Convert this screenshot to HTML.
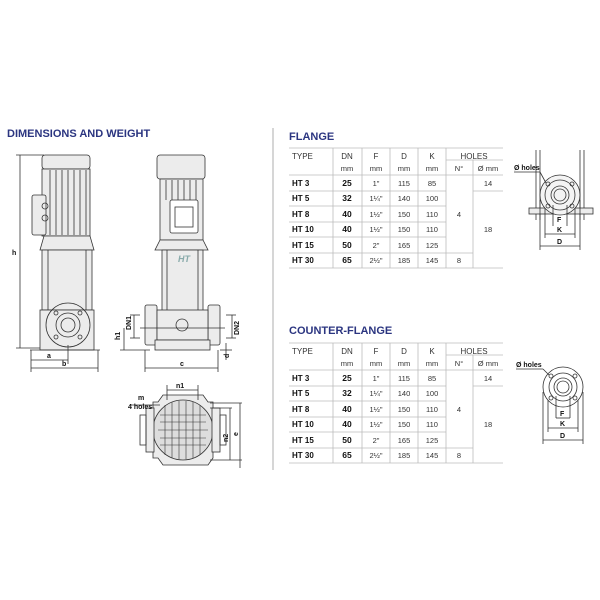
<!DOCTYPE html>
<html><head><style>
body{margin:0;background:#fff;}
svg{display:block;font-family:"Liberation Sans",Arial,sans-serif;}
.t{fill:#2b3580;font-weight:bold;font-size:11px;}
.h{font-size:8px;fill:#333;}
.c{font-size:7.5px;fill:#333;text-anchor:middle;}
.hc{font-size:8px;fill:#333;text-anchor:middle;}
.b{font-size:8px;fill:#111;font-weight:bold;}
.bc{font-size:8.5px;fill:#111;font-weight:bold;text-anchor:middle;}
.l{stroke:#333;fill:none;stroke-width:0.8;}
.f{fill:#ececec;}
.g{stroke:#bbb;stroke-width:0.8;}
.d{font-size:7px;fill:#111;font-weight:bold;}
</style></head><body>
<svg width="600" height="600" viewBox="0 0 600 600">
<text x="7" y="137" class="t">DIMENSIONS AND WEIGHT</text>
<line x1="273" y1="128" x2="273" y2="470" stroke="#999" stroke-width="0.8"/>

<!-- Left pump -->
<g class="l">
<rect x="42" y="155" width="48" height="14" rx="3" class="f"/>
<rect x="42" y="169" width="48" height="67" class="f"/>
<line x1="50" y1="170" x2="50" y2="235"/><line x1="56" y1="170" x2="56" y2="235"/><line x1="62" y1="170" x2="62" y2="235"/><line x1="68" y1="170" x2="68" y2="235"/><line x1="74" y1="170" x2="74" y2="235"/><line x1="80" y1="170" x2="80" y2="235"/><line x1="86" y1="170" x2="86" y2="235"/>
<rect x="32" y="195" width="14" height="40" rx="2" class="f"/>
<circle cx="45" cy="206" r="3"/><circle cx="45" cy="218" r="3"/>
<path d="M44 236 L90 236 L94 250 L40 250 Z" class="f"/>
<rect x="42" y="250" width="50" height="60" class="f"/>
<line x1="48" y1="250" x2="48" y2="310"/><line x1="86" y1="250" x2="86" y2="310"/>
<rect x="40" y="310" width="54" height="40" class="f"/>
<circle cx="68" cy="325" r="22"/><circle cx="68" cy="325" r="12"/><circle cx="68" cy="325" r="7"/>
<circle cx="56" cy="313" r="2"/><circle cx="80" cy="313" r="2"/><circle cx="56" cy="337" r="2"/><circle cx="80" cy="337" r="2"/>
<line x1="30" y1="350" x2="100" y2="350"/>
<line x1="20" y1="155" x2="20" y2="348"/><line x1="16" y1="155" x2="44" y2="155"/><line x1="16" y1="348" x2="40" y2="348"/>
<line x1="31" y1="350" x2="31" y2="372"/><line x1="98" y1="350" x2="98" y2="372"/><line x1="68" y1="345" x2="68" y2="364"/>
<line x1="31" y1="360" x2="68" y2="360"/><line x1="31" y1="368" x2="98" y2="368"/>
</g>
<text x="12" y="255" class="d">h</text>
<text x="47" y="358" class="d">a</text>
<text x="62" y="366" class="d">b</text>

<!-- Second pump -->
<g class="l">
<rect x="157" y="155" width="48" height="24" rx="3" class="f"/>
<rect x="160" y="179" width="43" height="61" class="f"/>
<line x1="166" y1="180" x2="166" y2="200"/><line x1="172" y1="180" x2="172" y2="200"/><line x1="178" y1="180" x2="178" y2="200"/><line x1="184" y1="180" x2="184" y2="200"/><line x1="190" y1="180" x2="190" y2="200"/><line x1="196" y1="180" x2="196" y2="200"/>
<rect x="170" y="200" width="28" height="33" rx="2" fill="#fff"/>
<rect x="175" y="207" width="18" height="20"/>
<path d="M160 240 L203 240 L208 250 L155 250 Z" class="f"/>
<rect x="162" y="250" width="41" height="65" class="f"/>
<line x1="167" y1="250" x2="167" y2="315"/><line x1="198" y1="250" x2="198" y2="315"/>
<rect x="145" y="305" width="12" height="40" rx="2" class="f"/><rect x="208" y="305" width="12" height="40" rx="2" class="f"/>
<rect x="157" y="310" width="51" height="30" class="f"/>
<circle cx="182" cy="325" r="6"/>
<rect x="155" y="340" width="55" height="10" class="f"/>
<line x1="140" y1="328" x2="225" y2="328"/>
<line x1="145" y1="350" x2="145" y2="372"/><line x1="218" y1="350" x2="218" y2="372"/>
<line x1="145" y1="368" x2="218" y2="368"/>
<line x1="134" y1="315" x2="134" y2="338"/><line x1="130" y1="315" x2="140" y2="315"/><line x1="130" y1="338" x2="140" y2="338"/>
<line x1="124" y1="328" x2="124" y2="350"/><line x1="120" y1="350" x2="150" y2="350"/>
<line x1="232" y1="315" x2="232" y2="338"/><line x1="226" y1="315" x2="236" y2="315"/><line x1="226" y1="338" x2="236" y2="338"/>
<line x1="226" y1="343" x2="226" y2="360"/><line x1="220" y1="350" x2="232" y2="350"/>
</g>
<text x="178" y="262" font-size="9" font-style="italic" font-weight="bold" fill="#8aa">HT</text>
<text x="180" y="366" class="d">c</text>
<text x="131" y="330" class="d" transform="rotate(-90 131 330)">DN1</text>
<text x="239" y="335" class="d" transform="rotate(-90 239 335)">DN2</text>
<text x="120" y="340" class="d" transform="rotate(-90 120 340)">h1</text>
<text x="229" y="358" class="d" transform="rotate(-90 229 358)">d</text>

<!-- bottom view -->
<g class="l">
<path d="M163 395 L203 395 L208 402 L213 402 L213 458 L208 465 L163 465 L158 458 L153 458 L153 402 L158 402 Z" class="f"/>
<circle cx="183" cy="430" r="30" fill="#ddd"/>
<rect x="146" y="408" width="8" height="44" class="f"/><rect x="212" y="408" width="8" height="44" class="f"/>
<rect x="140" y="415" width="6" height="30"/><rect x="220" y="415" width="6" height="30"/>
<line x1="167" y1="385" x2="167" y2="400"/><line x1="198" y1="385" x2="198" y2="400"/>
<line x1="167" y1="390" x2="198" y2="390"/>
<line x1="210" y1="408" x2="232" y2="408"/><line x1="210" y1="460" x2="242" y2="460"/><line x1="210" y1="403" x2="242" y2="403"/>
<line x1="230" y1="408" x2="230" y2="460"/><line x1="240" y1="403" x2="240" y2="468"/>
<line x1="130" y1="405" x2="160" y2="405"/>
</g>
<g stroke="#333" stroke-width="0.6">
<line x1="160" y1="415" x2="206" y2="415"/><line x1="160" y1="422" x2="206" y2="422"/><line x1="158" y1="430" x2="208" y2="430"/><line x1="160" y1="438" x2="206" y2="438"/><line x1="160" y1="445" x2="206" y2="445"/>
<line x1="165" y1="405" x2="165" y2="455"/><line x1="172" y1="402" x2="172" y2="458"/><line x1="179" y1="401" x2="179" y2="459"/><line x1="186" y1="401" x2="186" y2="459"/><line x1="193" y1="402" x2="193" y2="458"/><line x1="200" y1="405" x2="200" y2="455"/>
</g>
<text x="176" y="388" class="d">n1</text>
<text x="138" y="400" class="d">m</text>
<text x="128" y="409" class="d">4 holes</text>
<text x="228" y="442" class="d" transform="rotate(-90 228 442)">n2</text>
<text x="238" y="436" class="d" transform="rotate(-90 238 436)">e</text>

<!-- FLANGE -->
<text x="289" y="140" class="t">FLANGE</text>
<g id="tbl">
<line x1="289" y1="148" x2="503" y2="148" class="g"/>
<line x1="289" y1="175" x2="503" y2="175" class="g"/>
<line x1="289" y1="268" x2="503" y2="268" class="g"/>
<line x1="289" y1="191" x2="446" y2="191" class="g"/><line x1="473" y1="191" x2="503" y2="191" class="g"/>
<line x1="289" y1="206" x2="446" y2="206" class="g"/>
<line x1="289" y1="222" x2="446" y2="222" class="g"/>
<line x1="289" y1="237" x2="446" y2="237" class="g"/>
<line x1="289" y1="253" x2="473" y2="253" class="g"/>
<line x1="333" y1="148" x2="333" y2="268" class="g"/>
<line x1="362" y1="148" x2="362" y2="268" class="g"/>
<line x1="390" y1="148" x2="390" y2="268" class="g"/>
<line x1="418" y1="148" x2="418" y2="268" class="g"/>
<line x1="446" y1="148" x2="446" y2="268" class="g"/>
<line x1="473" y1="160" x2="473" y2="268" class="g"/>
<line x1="446" y1="160" x2="503" y2="160" class="g"/>
<text x="292" y="159" class="h">TYPE</text>
<text x="347" y="159" class="hc">DN</text><text x="347" y="171" class="c">mm</text>
<text x="376" y="159" class="hc">F</text><text x="376" y="171" class="c">mm</text>
<text x="404" y="159" class="hc">D</text><text x="404" y="171" class="c">mm</text>
<text x="432" y="159" class="hc">K</text><text x="432" y="171" class="c">mm</text>
<text x="474" y="159" class="hc">HOLES</text>
<text x="459" y="171" class="c">N°</text><text x="488" y="171" class="c">Ø mm</text>
<text x="292" y="186" class="b">HT 3</text><text x="347" y="186" class="bc">25</text><text x="376" y="186" class="c">1"</text><text x="404" y="186" class="c">115</text><text x="432" y="186" class="c">85</text><text x="488" y="186" class="c">14</text>
<text x="292" y="201" class="b">HT 5</text><text x="347" y="201" class="bc">32</text><text x="376" y="201" class="c">1¼"</text><text x="404" y="201" class="c">140</text><text x="432" y="201" class="c">100</text>
<text x="292" y="217" class="b">HT 8</text><text x="347" y="217" class="bc">40</text><text x="376" y="217" class="c">1½"</text><text x="404" y="217" class="c">150</text><text x="432" y="217" class="c">110</text><text x="459" y="217" class="c">4</text>
<text x="292" y="232" class="b">HT 10</text><text x="347" y="232" class="bc">40</text><text x="376" y="232" class="c">1½"</text><text x="404" y="232" class="c">150</text><text x="432" y="232" class="c">110</text><text x="488" y="232" class="c">18</text>
<text x="292" y="248" class="b">HT 15</text><text x="347" y="248" class="bc">50</text><text x="376" y="248" class="c">2"</text><text x="404" y="248" class="c">165</text><text x="432" y="248" class="c">125</text>
<text x="292" y="263" class="b">HT 30</text><text x="347" y="263" class="bc">65</text><text x="376" y="263" class="c">2½"</text><text x="404" y="263" class="c">185</text><text x="432" y="263" class="c">145</text><text x="459" y="263" class="c">8</text>
</g>
<use href="#tbl" transform="translate(0,195)"/>
<text x="289" y="334" class="t">COUNTER-FLANGE</text>

<!-- flange drawing -->
<g class="l">
<line x1="536" y1="150" x2="536" y2="220"/><line x1="540" y1="150" x2="540" y2="220"/>
<line x1="580" y1="150" x2="580" y2="220"/><line x1="584" y1="150" x2="584" y2="220"/>
<rect x="529" y="208" width="64" height="6" class="f"/>
<circle cx="560" cy="195" r="20" fill="#f4f4f4"/><circle cx="560" cy="195" r="15"/><circle cx="560" cy="195" r="9"/><circle cx="560" cy="195" r="6"/>
<circle cx="548" cy="184" r="2"/><circle cx="572" cy="184" r="2"/><circle cx="548" cy="206" r="2"/><circle cx="572" cy="206" r="2"/>
<line x1="553" y1="205" x2="553" y2="226"/><line x1="567" y1="205" x2="567" y2="226"/>
<line x1="545" y1="208" x2="545" y2="238"/><line x1="575" y1="208" x2="575" y2="238"/>
<line x1="540" y1="200" x2="540" y2="250"/><line x1="580" y1="200" x2="580" y2="250"/>
<line x1="545" y1="234" x2="575" y2="234"/><line x1="540" y1="246" x2="580" y2="246"/>
<line x1="514" y1="172" x2="540" y2="172"/><line x1="540" y1="172" x2="546" y2="183"/>
</g>
<text x="514" y="170" class="d">Ø holes</text>
<text x="557" y="222" class="d">F</text><text x="557" y="232" class="d">K</text><text x="557" y="244" class="d">D</text>

<!-- counter-flange drawing -->
<g class="l">
<circle cx="563" cy="387" r="20"/><circle cx="563" cy="387" r="14"/><circle cx="563" cy="387" r="9"/><circle cx="563" cy="387" r="6"/>
<circle cx="551" cy="376" r="2"/><circle cx="575" cy="376" r="2"/><circle cx="551" cy="398" r="2"/><circle cx="575" cy="398" r="2"/>
<line x1="556" y1="396" x2="556" y2="418"/><line x1="570" y1="396" x2="570" y2="418"/><line x1="556" y1="418" x2="570" y2="418"/>
<line x1="548" y1="400" x2="548" y2="432"/><line x1="578" y1="400" x2="578" y2="432"/>
<line x1="543" y1="392" x2="543" y2="444"/><line x1="583" y1="392" x2="583" y2="444"/>
<line x1="548" y1="428" x2="578" y2="428"/><line x1="543" y1="440" x2="583" y2="440"/>
<line x1="516" y1="369" x2="543" y2="369"/><line x1="543" y1="369" x2="549" y2="375"/>
</g>
<text x="516" y="367" class="d">Ø holes</text>
<text x="560" y="416" class="d">F</text><text x="560" y="426" class="d">K</text><text x="560" y="438" class="d">D</text>
</svg>
</body></html>
